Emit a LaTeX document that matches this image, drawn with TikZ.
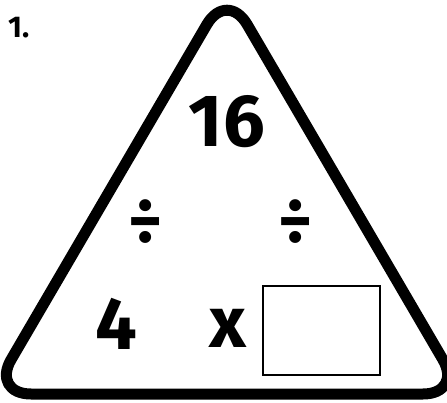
\documentclass[tikz,border=0pt]{standalone}
\usepackage{fontspec}
\setmainfont{Fira Sans}
\usetikzlibrary{positioning}
\tikzset{
  outline/.style={line width=11pt, rounded corners=40pt, line join=round},
  number/.style={font=\fontsize{74}{74}\selectfont\bfseries, inner sep=0pt},
  operator/.style={font=\fontsize{66}{66}\selectfont\bfseries, inner sep=0pt},
  qlabel/.style={font=\fontsize{30}{30}\selectfont\bfseries, inner sep=0pt, anchor=north west},
  answerbox/.style={draw, line width=2pt, minimum width=117pt, minimum height=89pt, inner sep=0pt}
}

\begin{document}
\begin{tikzpicture}[x=1pt, y=-1pt]
  \useasboundingbox (0,0) rectangle (447,403);

  % === triangle outline ===
  \draw[outline] (227,394) -- (463,394) -- (227,-10) -- (-9,394) -- cycle;

  % === question number ===
  \node[qlabel] (qnum) at (8,17) {1.};

  % === numbers and signs ===
  \node[number] (top) at (227,122) {16};
  \node[operator] (divleft) at (146,222) {÷};
  \node[operator] (divright) at (296,222) {÷};
  \node[number] (left) at (116,324) {4};
  \node[number, font=\fontsize{72}{72}\selectfont\bfseries] (times) at (228,328) {x};
  \node[answerbox] (answer) at (321.5,330.5) {};
\end{tikzpicture}
\end{document}
